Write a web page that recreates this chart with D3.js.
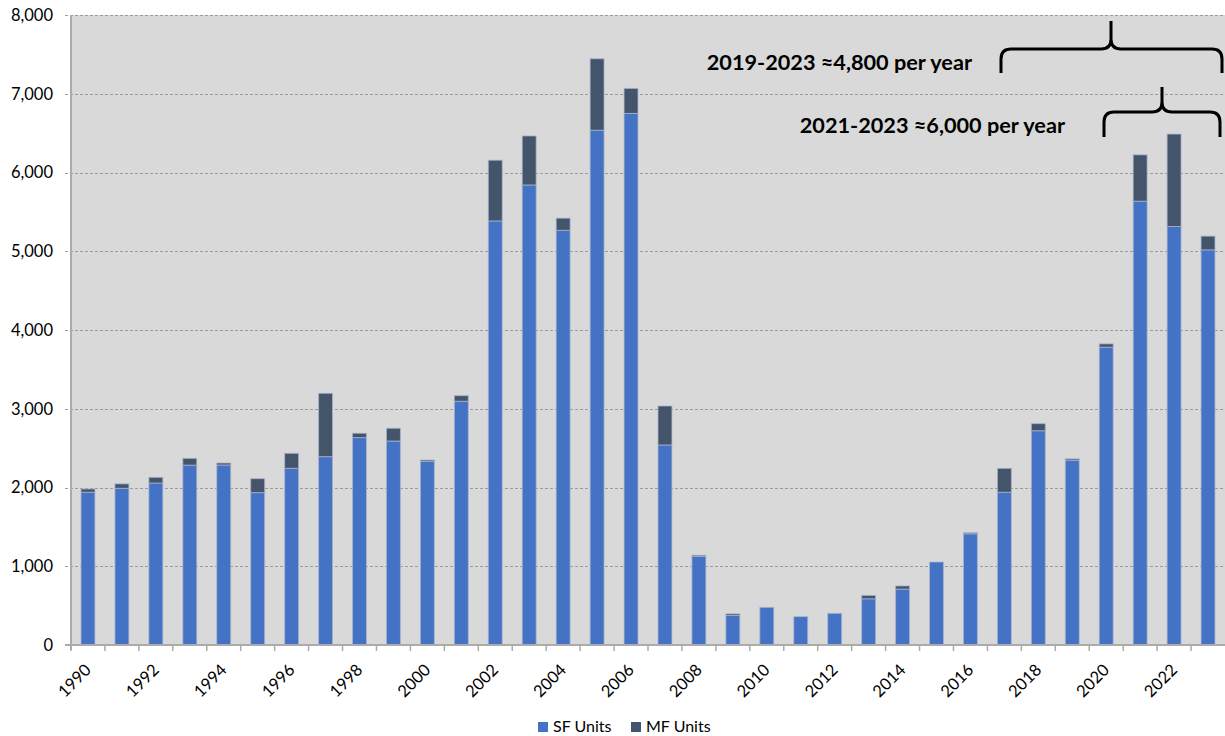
<!DOCTYPE html>
<html>
<head>
<meta charset="utf-8">
<script src="https://cdn.jsdelivr.net/npm/d3@7"></script>
<style>
  html, body { margin: 0; padding: 0; background: #ffffff; }
  svg { display: block; }
</style>
</head>
<body>
<svg id="chart" width="1225" height="736"></svg>
<script>
// ---- data ----
const years = [1990,1991,1992,1993,1994,1995,1996,1997,1998,1999,2000,2001,2002,2003,2004,2005,2006,2007,2008,2009,2010,2011,2012,2013,2014,2015,2016,2017,2018,2019,2020,2021,2022,2023];
const sfUnits = [1940,1990,2057,2284,2286,1935,2244,2392,2634,2590,2332,3095,5385,5842,5266,6537,6750,2540,1125,375,478,360,402,587,710,1054,1412,1940,2721,2346,3782,5636,5314,5018];
const totalUnits = [1981,2046,2129,2370,2311,2112,2434,3196,2689,2752,2349,3166,6156,6464,5420,7444,7068,3035,1140,395,478,360,402,630,750,1054,1426,2243,2811,2364,3824,6224,6488,5192];
const mfUnits = totalUnits.map((t, i) => t - sfUnits[i]);
const xTickLabels = [1990,1992,1994,1996,1998,2000,2002,2004,2006,2008,2010,2012,2014,2016,2018,2020,2022];
const yTicks = [0,1000,2000,3000,4000,5000,6000,7000,8000];
const seriesNames = ["SF Units", "MF Units"];
const seriesColors = ["#4472C4", "#44546A"];
const annotations = [
  { text: "2019-2023 \u22484,800 per year", from: 2019, to: 2023 },
  { text: "2021-2023 \u22486,000 per year", from: 2021, to: 2023 }
];

// ---- layout ----
const svg = d3.select("#chart");
const plot = { left: 71, right: 1225, top: 15, bottom: 645 };
const baseFont = "Lato, sans-serif";

const x = d3.scaleBand().domain(years).range([plot.left, plot.right])
  .paddingInner(0.59).paddingOuter(0.295);
const y = d3.scaleLinear().domain([0, 8000]).range([plot.bottom, plot.top]);

// background
svg.append("rect")
  .attr("x", plot.left).attr("y", plot.top)
  .attr("width", plot.right - plot.left).attr("height", plot.bottom - plot.top)
  .attr("fill", "#D9D9D9");

// gridlines (dashed) extended left as ticks
svg.append("g").selectAll("line")
  .data(yTicks.filter(d => d > 0))
  .join("line")
  .attr("x1", plot.left - 6).attr("x2", plot.right)
  .attr("y1", d => Math.round(y(d)) + 0.5).attr("y2", d => Math.round(y(d)) + 0.5)
  .attr("stroke", "#9c9c9c").attr("stroke-width", 1)
  .attr("stroke-dasharray", "3,2");

// y axis labels
const yAxis = d3.axisLeft(y).tickValues(yTicks).tickFormat(d3.format(",")).tickSize(0).tickPadding(18);
const yg = svg.append("g").attr("transform", `translate(${plot.left},0)`).call(yAxis);
yg.select(".domain").remove();
yg.attr("font-family", baseFont).attr("font-size", 16.5);
yg.selectAll("text").attr("fill", "#000");

// stacked bars
const stackData = years.map((yr, i) => ({ year: yr, sf: sfUnits[i], mf: mfUnits[i] }));
const stack = d3.stack().keys(["sf", "mf"])(stackData);
stack.forEach((layer, li) => {
  svg.append("g").selectAll("rect")
    .data(layer)
    .join("rect")
    .attr("x", d => x(d.data.year))
    .attr("width", x.bandwidth())
    .attr("y", d => y(d[1]))
    .attr("height", d => Math.max(0, y(d[0]) - y(d[1])))
    .attr("fill", seriesColors[li])
    .attr("stroke", "rgba(170,182,205,0.75)")
    .attr("stroke-width", 1);
});

// axis lines
svg.append("line")
  .attr("x1", plot.left).attr("x2", plot.left)
  .attr("y1", plot.top).attr("y2", plot.bottom + 5)
  .attr("stroke", "#ababab").attr("stroke-width", 2);
svg.append("line")
  .attr("x1", plot.left - 6).attr("x2", plot.right)
  .attr("y1", plot.bottom).attr("y2", plot.bottom)
  .attr("stroke", "#ababab").attr("stroke-width", 2);

// x ticks at band boundaries
const step = x.step();
const boundaries = years.map(yr => x(yr) - (step - x.bandwidth()) / 2);
svg.append("g").selectAll("line")
  .data(boundaries)
  .join("line")
  .attr("x1", d => d).attr("x2", d => d)
  .attr("y1", plot.bottom).attr("y2", plot.bottom + 6)
  .attr("stroke", "#ababab").attr("stroke-width", 1.5);

// x labels
svg.append("g").selectAll("text")
  .data(xTickLabels)
  .join("text")
  .attr("transform", d => `translate(${x(d) + x.bandwidth() / 2},${plot.bottom + 22}) rotate(-45)`)
  .attr("text-anchor", "end")
  .attr("font-family", baseFont)
  .attr("font-size", 16.5)
  .attr("fill", "#000")
  .attr("dy", "0.35em")
  .text(d => d);

// legend
const legend = svg.append("g");
const legendX = [538, 631];
seriesNames.forEach((name, i) => {
  legend.append("rect")
    .attr("x", legendX[i]).attr("y", 722)
    .attr("width", 10).attr("height", 10)
    .attr("fill", seriesColors[i]);
  legend.append("text")
    .attr("x", legendX[i] + 15).attr("y", 732)
    .attr("font-family", baseFont)
    .attr("font-size", 16)
    .attr("fill", "#000")
    .text(name);
});

// annotations: braces + text
const braceGeom = [
  { x0: 1001, x1: 1222, xc: 1111, top: 21, mid: 49, bot: 73, tx: 972, ty: 70 },
  { x0: 1104, x1: 1220, xc: 1162, top: 87, mid: 112, bot: 137, tx: 1065, ty: 133 }
];
const defs = svg.append("defs");
annotations.forEach((a, i) => {
  const g = braceGeom[i];
  const r = 10;
  const p = `M${g.x0},${g.bot} L${g.x0},${g.mid + r} Q${g.x0},${g.mid} ${g.x0 + r},${g.mid} ` +
            `L${g.xc - r},${g.mid} Q${g.xc},${g.mid} ${g.xc},${g.mid - r} L${g.xc},${g.top} ` +
            `M${g.xc},${g.mid - r} Q${g.xc},${g.mid} ${g.xc + r},${g.mid} ` +
            `L${g.x1 - r},${g.mid} Q${g.x1},${g.mid} ${g.x1},${g.mid + r} L${g.x1},${g.bot}`;
  svg.append("path").attr("d", p)
    .attr("fill", "none").attr("stroke", "#000").attr("stroke-width", 3);
  defs.append("clipPath").attr("id", "clip" + i)
    .append("rect").attr("x", 0).attr("y", 0).attr("width", 1225).attr("height", g.ty + 3);
  svg.append("text")
    .attr("clip-path", `url(#clip${i})`)
    .attr("x", g.tx).attr("y", g.ty)
    .attr("text-anchor", "end")
    .attr("font-family", baseFont)
    .attr("font-weight", "bold")
    .attr("font-size", 21.7)
    .attr("fill", "#000")
    .text(a.text);
});
</script>
</body>
</html>
